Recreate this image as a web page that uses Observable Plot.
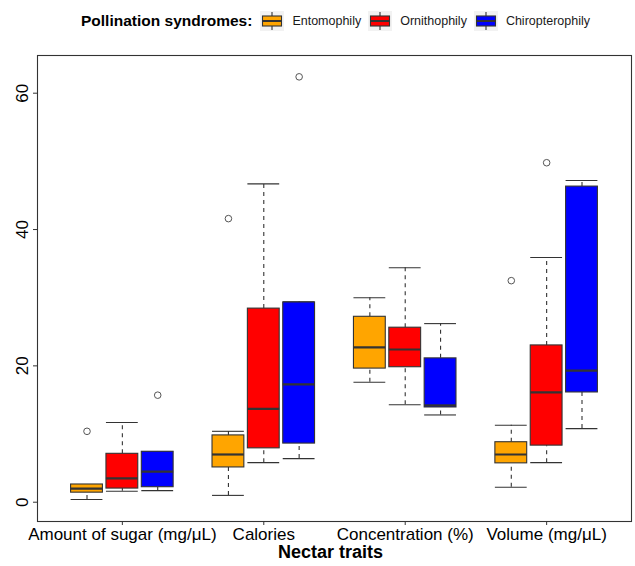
<!DOCTYPE html>
<html>
<head>
<meta charset="utf-8">
<script src="https://cdn.jsdelivr.net/npm/d3@7"></script>
<script src="https://cdn.jsdelivr.net/npm/@observablehq/plot@0.6"></script>
<style>
  html, body { margin: 0; padding: 0; background: white; }
  #wrap { width: 635px; font-family: "Liberation Sans", Arial, sans-serif; }
  #legend { height: 40px; display: flex; align-items: center; padding-left: 81px; box-sizing: border-box; padding-top: 2px; }
  #legend .title { font-weight: bold; font-size: 15.5px; margin-right: 8px; color: #000; }
  #legend .key { width: 24px; height: 20px; margin-right: 8px; display: block; }
  #legend .lab { font-size: 12.5px; margin-right: 7px; color: #1a1a1a; }
  svg { display: block; }
</style>
</head>
<body>
<div id="wrap">
  <div id="legend"></div>
  <div id="chart"></div>
</div>
<script>
// ---- Data ----
const traits = ["Amount of sugar (mg/μL)", "Calories", "Concentration (%)", "Volume (mg/μL)"];
const syndromes = ["Entomophily", "Ornithophily", "Chiropterophily"];
const syndromeColors = ["#FFA500", "#FF0000", "#0000FF"];
const legendTitle = "Pollination syndromes:";
const axisTitle = "Nectar traits";
const yTicks = [0, 20, 40, 60];

// rows = traits, columns = syndromes (Entomophily, Ornithophily, Chiropterophily)
const whiskerLow  = [[0.4, 1.6, 1.7], [1.0, 5.8, 6.4], [17.6, 14.3, 12.8], [2.2, 5.8, 10.8]];
const quartile1   = [[1.4, 2.0, 2.2], [5.1, 7.9, 8.6], [19.6, 19.8, 13.9], [5.7, 8.3, 16.1]];
const medians     = [[2.0, 3.5, 4.5], [7.0, 13.7, 17.3], [22.7, 22.4, 14.2], [7.0, 16.1, 19.3]];
const quartile3   = [[2.6, 7.1, 7.4], [9.8, 28.4, 29.3], [27.2, 25.6, 21.1], [8.8, 23.0, 46.3]];
const whiskerHigh = [[2.6, 11.7, 7.4], [10.4, 46.7, 29.4], [30.0, 34.4, 26.2], [11.3, 35.9, 47.2]];

// outliers: trait index, syndrome index, value
const outlierTrait    = [0, 0, 1, 1, 3, 3];
const outlierSyndrome = [0, 2, 0, 2, 0, 1];
const outlierValue    = [10.4, 15.7, 41.6, 62.4, 32.5, 49.8];

// ---- Build tables ----
const dodge = 0.25;          // slot width per syndrome
const half = dodge * 0.9 / 2; // half box width
const posOf = (i, j) => i + 1 + (j - 1) * dodge;

const rows = traits.flatMap((t, i) => syndromes.map((s, j) => ({
  trait: t, syndrome: s, pos: posOf(i, j),
  low: whiskerLow[i][j], q1: quartile1[i][j], med: medians[i][j],
  q3: quartile3[i][j], high: whiskerHigh[i][j]
})));
const outRows = outlierValue.map((v, k) => ({
  pos: posOf(outlierTrait[k], outlierSyndrome[k]), value: v
}));

const line = "#333333";
const x1 = d => d.pos - half, x2 = d => d.pos + half;

const chart = Plot.plot({
  width: 635,
  height: 526,
  marginTop: 15,
  marginBottom: 45,
  marginLeft: 37,
  marginRight: 4,
  style: { fontFamily: "Liberation Sans, Arial, sans-serif", fontSize: "17px", background: "white", color: "black" },
  x: { domain: [0.4, 4.6], axis: null },
  y: { domain: [-2.83, 65.53], axis: null },
  color: { domain: syndromes, range: syndromeColors },
  marks: [
    Plot.ruleX(rows, { x: "pos", y1: "low", y2: "q1", stroke: line, strokeWidth: 1.1, strokeDasharray: "4,4" }),
    Plot.ruleX(rows, { x: "pos", y1: "q3", y2: "high", stroke: line, strokeWidth: 1.1, strokeDasharray: "4,4" }),
    Plot.ruleY(rows, { y: "low", x1, x2, stroke: line, strokeWidth: 1.1 }),
    Plot.ruleY(rows, { y: "high", x1, x2, stroke: line, strokeWidth: 1.1 }),
    Plot.rect(rows, { x1, x2, y1: "q1", y2: "q3", fill: "syndrome", stroke: line, strokeWidth: 1.1 }),
    Plot.ruleY(rows, { y: "med", x1, x2, stroke: line, strokeWidth: 2.2 }),
    Plot.dot(outRows, { x: "pos", y: "value", r: 3.3, stroke: "#555", strokeWidth: 1, fill: "none" }),
    Plot.frame({ stroke: line, strokeWidth: 1.1 }),
    Plot.axisX({ ticks: [1, 2, 3, 4], tickFormat: v => traits[v - 1], tickSize: 4, tickPadding: 2, stroke: line, fill: "black", label: null }),
    Plot.axisY({ ticks: yTicks, tickRotate: -90, tickSize: 4, tickPadding: 6, stroke: line, fill: "black", label: null }),
    Plot.text([axisTitle], { frameAnchor: "bottom", text: d => d, dx: -4, dy: 36, fontSize: 18, fontWeight: "bold", fill: "black" })
  ]
});
document.getElementById("chart").appendChild(chart);

// ---- Legend (HTML above the SVG) ----
const legend = document.getElementById("legend");
const title = document.createElement("span");
title.className = "title";
title.textContent = legendTitle;
legend.appendChild(title);
const ns = "http://www.w3.org/2000/svg";
syndromes.forEach((s, j) => {
  const svg = document.createElementNS(ns, "svg");
  svg.setAttribute("class", "key");
  svg.setAttribute("width", 24);
  svg.setAttribute("height", 20);
  svg.innerHTML =
    `<rect x="0" y="0" width="24" height="20" fill="#f2f2f2"/>` +
    `<line x1="12" x2="12" y1="1" y2="19" stroke="${line}" stroke-width="1.1"/>` +
    `<rect x="2.5" y="5" width="19" height="10" fill="${syndromeColors[j]}" stroke="${line}" stroke-width="1.1"/>` +
    `<line x1="2.5" x2="21.5" y1="10" y2="10" stroke="${line}" stroke-width="2"/>`;
  legend.appendChild(svg);
  const lab = document.createElement("span");
  lab.className = "lab";
  lab.textContent = s;
  legend.appendChild(lab);
});
</script>
</body>
</html>
